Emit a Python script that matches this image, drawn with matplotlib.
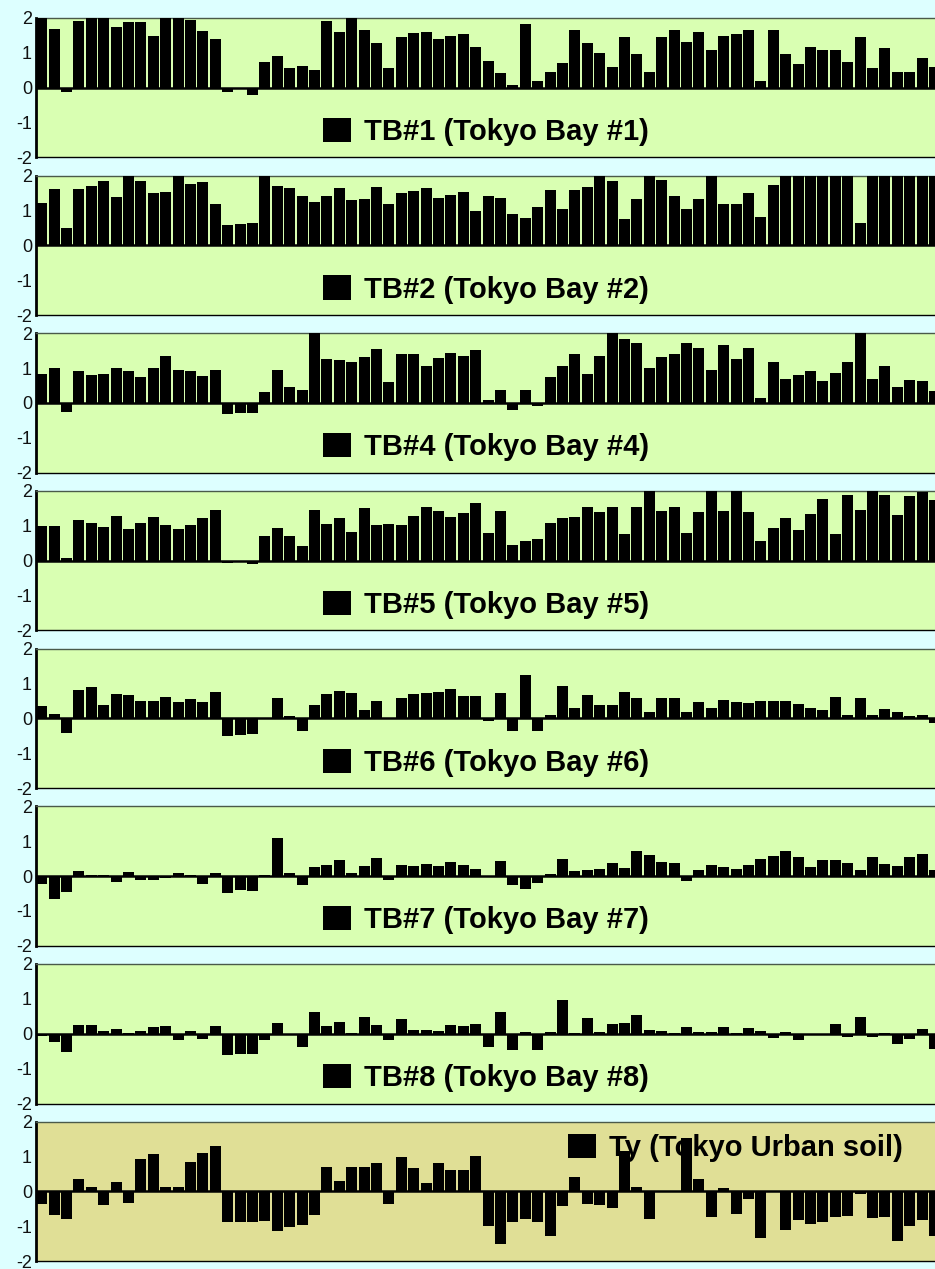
import matplotlib
matplotlib.use("Agg")
import matplotlib.pyplot as plt
import numpy as np

plt.rcParams['font.family'] = ['Liberation Sans', 'DejaVu Sans']

labels = ["TB#1 (Tokyo Bay #1)", "TB#2 (Tokyo Bay #2)", "TB#4 (Tokyo Bay #4)",
          "TB#5 (Tokyo Bay #5)", "TB#6 (Tokyo Bay #6)", "TB#7 (Tokyo Bay #7)",
          "TB#8 (Tokyo Bay #8)", "Ty (Tokyo Urban soil)"]

tb1 = [2.0, 1.69, -0.14, 1.92, 2.0, 2.0, 1.74, 1.87, 1.87, 1.48,
       2.0, 2.0, 1.94, 1.62, 1.38, -0.12, -0.03, -0.2, 0.72, 0.9,
       0.56, 0.61, 0.49, 1.91, 1.58, 2.0, 1.66, 1.27, 0.56, 1.44,
       1.55, 1.6, 1.4, 1.49, 1.53, 1.16, 0.75, 0.42, 0.07, 1.83,
       0.18, 0.46, 0.69, 1.64, 1.29, 0.99, 0.6, 1.46, 0.95, 0.45,
       1.44, 1.64, 1.32, 1.6, 1.09, 1.49, 1.53, 1.66, 0.2, 1.65,
       0.96, 0.67, 1.17, 1.07, 1.07, 0.73, 1.45, 0.55, 1.12, 0.44,
       0.45, 0.84, 0.59]
tb2 = [1.2, 1.6, 0.49, 1.62, 1.7, 1.85, 1.37, 2.0, 1.84, 1.5,
       1.53, 2.0, 1.76, 1.82, 1.17, 0.58, 0.6, 0.63, 1.98, 1.71,
       1.64, 1.4, 1.24, 1.42, 1.64, 1.29, 1.32, 1.67, 1.17, 1.49,
       1.56, 1.64, 1.35, 1.43, 1.53, 0.98, 1.4, 1.36, 0.89, 0.77,
       1.1, 1.57, 1.05, 1.59, 1.67, 2.0, 1.85, 0.74, 1.32, 2.0,
       1.86, 1.4, 1.04, 1.32, 2.0, 1.18, 1.18, 1.5, 0.82, 1.72,
       2.0, 2.0, 2.0, 2.0, 2.0, 2.0, 0.65, 2.0, 2.0, 2.0,
       2.0, 2.0, 2.0]
tb4 = [0.84, 1.0, -0.26, 0.91, 0.8, 0.84, 1.01, 0.92, 0.73, 1.0,
       1.34, 0.94, 0.93, 0.76, 0.94, -0.31, -0.29, -0.3, 0.31, 0.95,
       0.45, 0.36, 2.0, 1.25, 1.22, 1.18, 1.32, 1.55, 0.59, 1.41,
       1.39, 1.05, 1.3, 1.44, 1.34, 1.52, 0.09, 0.38, -0.19, 0.36,
       -0.09, 0.73, 1.07, 1.4, 0.84, 1.34, 2.0, 1.82, 1.72, 0.99,
       1.33, 1.41, 1.73, 1.58, 0.94, 1.65, 1.26, 1.57, 0.14, 1.16,
       0.68, 0.81, 0.92, 0.64, 0.86, 1.18, 2.0, 0.7, 1.05, 0.46,
       0.67, 0.63, 0.34]
tb5 = [1.0, 0.98, 0.09, 1.17, 1.07, 0.96, 1.27, 0.92, 1.09, 1.24,
       1.02, 0.9, 1.02, 1.23, 1.44, -0.06, -0.02, -0.1, 0.71, 0.94,
       0.72, 0.41, 1.44, 1.05, 1.21, 0.82, 1.51, 1.01, 1.04, 1.02,
       1.29, 1.55, 1.41, 1.24, 1.36, 1.66, 0.8, 1.41, 0.45, 0.57,
       0.63, 1.09, 1.21, 1.25, 1.55, 1.39, 1.55, 0.77, 1.55, 2.0,
       1.42, 1.55, 0.78, 1.39, 2.0, 1.42, 2.0, 1.39, 0.57, 0.93,
       1.23, 0.87, 1.33, 1.77, 0.77, 1.89, 1.44, 2.0, 1.87, 1.31,
       1.86, 1.97, 1.75]
tb6 = [0.34, 0.13, -0.42, 0.82, 0.9, 0.39, 0.69, 0.66, 0.51, 0.51,
       0.6, 0.48, 0.56, 0.47, 0.76, -0.5, -0.47, -0.46, 0.02, 0.59,
       0.07, -0.35, 0.37, 0.7, 0.78, 0.74, 0.25, 0.49, -0.02, 0.57,
       0.69, 0.73, 0.76, 0.83, 0.63, 0.63, -0.08, 0.74, -0.36, 1.25,
       -0.35, 0.1, 0.92, 0.31, 0.66, 0.37, 0.39, 0.75, 0.59, 0.18,
       0.59, 0.59, 0.18, 0.48, 0.29, 0.54, 0.46, 0.43, 0.51, 0.51,
       0.51, 0.42, 0.3, 0.24, 0.62, 0.1, 0.57, 0.1, 0.26, 0.18,
       0.06, 0.1, -0.13]
tb7 = [-0.24, -0.66, -0.46, 0.14, 0.03, 0.02, -0.18, 0.13, -0.1, -0.12,
       -0.05, 0.1, 0.02, -0.23, 0.1, -0.48, -0.4, -0.44, 0.03, 1.08,
       0.1, -0.25, 0.27, 0.31, 0.46, 0.09, 0.3, 0.52, -0.12, 0.33,
       0.3, 0.35, 0.29, 0.41, 0.32, 0.21, -0.02, 0.42, -0.27, -0.37,
       -0.21, 0.05, 0.48, 0.15, 0.17, 0.21, 0.36, 0.24, 0.72, 0.61,
       0.39, 0.37, -0.15, 0.18, 0.33, 0.26, 0.19, 0.33, 0.48, 0.58,
       0.73, 0.56, 0.25, 0.45, 0.47, 0.38, 0.16, 0.55, 0.35, 0.29,
       0.55, 0.64, 0.18]
tb8 = [-0.07, -0.25, -0.51, 0.24, 0.26, 0.07, 0.14, 0.01, 0.07, 0.19,
       0.22, -0.17, 0.09, -0.15, 0.23, -0.6, -0.58, -0.59, -0.17, 0.31,
       0.0, -0.38, 0.62, 0.22, 0.34, 0.01, 0.48, 0.26, -0.19, 0.43,
       0.12, 0.12, 0.07, 0.24, 0.22, 0.28, -0.39, 0.63, -0.47, 0.06,
       -0.47, 0.06, 0.96, 0.01, 0.45, 0.04, 0.28, 0.32, 0.54, 0.12,
       0.07, 0.03, 0.19, 0.05, 0.04, 0.19, 0.03, 0.16, 0.09, -0.13,
       0.05, -0.18, 0.0, 0.0, 0.28, -0.1, 0.48, -0.08, 0.03, -0.28,
       -0.15, 0.15, -0.44]
ty = [-0.35, -0.68, -0.78, 0.37, 0.13, -0.4, 0.28, -0.32, 0.92, 1.06,
      0.12, 0.13, 0.84, 1.1, 1.31, -0.89, -0.89, -0.88, -0.86, -1.14,
      -1.03, -0.97, -0.67, 0.7, 0.31, 0.71, 0.71, 0.83, -0.35, 0.98,
      0.67, 0.24, 0.83, 0.61, 0.61, 1.03, -0.98, -1.5, -0.88, -0.8,
      -0.89, -1.28, -0.43, 0.4, -0.36, -0.38, -0.48, 1.15, 0.13, -0.78,
      0.0, 0.0, 1.52, 0.35, -0.73, 0.1, -0.65, -0.21, -1.34, 0.0,
      -1.1, -0.83, -0.93, -0.87, -0.74, -0.69, -0.08, -0.76, -0.74, -1.41,
      -1.0, -0.82, -1.27]

series = [tb1, tb2, tb4, tb5, tb6, tb7, tb8, ty]
yticks = [-2, -1, 0, 1, 2]
ytick_labels = ["-2", "-1", "0", "1", "2"]

W, H = 935, 1269
fig = plt.figure(figsize=(W / 100, H / 100), dpi=100)
fig.patch.set_facecolor('#ddffff')

left_px = 35.5
top0 = 17.8
step = 157.7
ph = 139.5
pitch = 12.40

for i, (vals, lab) in enumerate(zip(series, labels)):
    top = top0 + i * step
    ax = fig.add_axes([left_px / W, 1 - (top + ph) / H, (W - left_px) / W, ph / H])
    is_ty = (i == 7)
    ax.set_facecolor('#e0df96' if is_ty else '#d9ffb2')
    x = np.arange(len(vals))
    ax.bar(x, vals, width=0.9, color='black', edgecolor='none', zorder=3, label=lab)
    ax.axhline(0, color='black', lw=1.8, zorder=4)
    ax.set_ylim(-2, 2)
    ax.set_xlim(-0.5, -0.5 + (W - left_px) / pitch)
    ax.set_yticks(yticks)
    ax.set_yticklabels(ytick_labels)
    ax.set_xticks([])
    ax.tick_params(axis='y', length=0, pad=2.5, labelsize=13, labelcolor='#111111')
    ax.spines['right'].set_visible(False)
    ax.spines['left'].set_linewidth(2.0)
    ax.spines['left'].set_color('black')
    ax.spines['top'].set_linewidth(1.0)
    ax.spines['top'].set_color('#4a5a4a')
    ax.spines['bottom'].set_linewidth(1.0)
    ax.spines['bottom'].set_color('black')
    if is_ty:
        anchor = ((568 - left_px) / (W - left_px), 0.8125)
    else:
        anchor = ((323 - left_px) / (W - left_px), 0.1825)
    leg = ax.legend(loc='center left', bbox_to_anchor=anchor, frameon=False,
                    borderpad=0, borderaxespad=0, handlelength=0.97, handleheight=0.9,
                    handletextpad=0.44, prop={'weight': 'bold', 'size': 21})
    leg.set_zorder(2)

fig.savefig('out.png', dpi=100, facecolor=fig.get_facecolor())
